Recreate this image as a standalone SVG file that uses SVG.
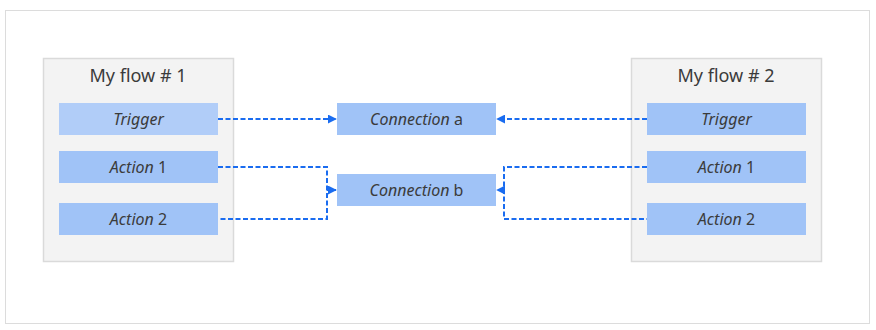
<svg xmlns="http://www.w3.org/2000/svg" width="876" height="330" viewBox="0 0 876 330">
<defs>
<style>
.frame{fill:#fff;stroke:#dcdcdc;stroke-width:1}
.flow{fill:#f3f3f3;stroke:#dadada;stroke-width:1.5}
.item{fill:#a0c3f7}
.light{fill:#b1cdf8}
.title{font-family:"Noto Sans","Open Sans",sans-serif;font-size:18px;fill:#3b3b3b;text-anchor:middle}
.lbl{font-family:"Noto Sans","Open Sans",sans-serif;font-size:16px;fill:#3b3b3b;text-anchor:middle;font-style:italic}
.n{font-style:normal}
.conn{fill:none;stroke:#1a6cf0;stroke-width:2;stroke-dasharray:5,2.5}
</style>
<marker id="arr" viewBox="0 0 10 10" refX="9" refY="5" markerWidth="4.5" markerHeight="4.5" orient="auto" markerUnits="strokeWidth">
<path d="M0,0 L10,5 L0,10 z" fill="#1a6cf0"/>
</marker>
</defs>
<rect class="frame" x="5.5" y="10.5" width="864" height="313"/>
<g id="flow1">
<rect class="flow" x="43.5" y="58.5" width="190" height="203"/>
<text class="title" x="138" y="82">My flow # 1</text>
</g>
<g id="flow1-trigger">
<rect class="light" x="59" y="103" width="159" height="32"/>
<text class="lbl" x="138.5" y="124.5">Trigger</text>
</g>
<g id="flow1-action1">
<rect class="item" x="59" y="151" width="159" height="32"/>
<text class="lbl" x="138.5" y="172.5">Action <tspan class="n">1</tspan></text>
</g>
<g id="flow1-action2">
<rect class="item" x="59" y="203" width="159" height="32"/>
<text class="lbl" x="138.5" y="224.5">Action <tspan class="n">2</tspan></text>
</g>
<g id="flow2">
<rect class="flow" x="631.5" y="58.5" width="190" height="203"/>
<text class="title" x="726" y="82">My flow # 2</text>
</g>
<g id="flow2-trigger">
<rect class="item" x="647" y="103" width="159" height="32"/>
<text class="lbl" x="726.5" y="124.5">Trigger</text>
</g>
<g id="flow2-action1">
<rect class="item" x="647" y="151" width="159" height="32"/>
<text class="lbl" x="726.5" y="172.5">Action <tspan class="n">1</tspan></text>
</g>
<g id="flow2-action2">
<rect class="item" x="647" y="203" width="159" height="32"/>
<text class="lbl" x="726.5" y="224.5">Action <tspan class="n">2</tspan></text>
</g>
<g id="connection-a">
<rect class="item" x="337" y="103" width="159" height="32"/>
<text class="lbl" x="416.5" y="124.5">Connection <tspan class="n">a</tspan></text>
</g>
<g id="connection-b">
<rect class="item" x="337" y="174" width="159" height="32"/>
<text class="lbl" x="416.5" y="195.5">Connection <tspan class="n">b</tspan></text>
</g>
<g id="connectors">
<path class="conn" d="M218,119 H336" marker-end="url(#arr)"/>
<path class="conn" d="M218,167 H327 V219 H218"/>
<path class="conn" d="M327,190 H336" marker-end="url(#arr)"/>
<path class="conn" d="M647,119 H497" marker-end="url(#arr)"/>
<path class="conn" d="M647,167 H504 V219 H647"/>
<path class="conn" d="M504,190 H497" marker-end="url(#arr)"/>
</g>
</svg>
